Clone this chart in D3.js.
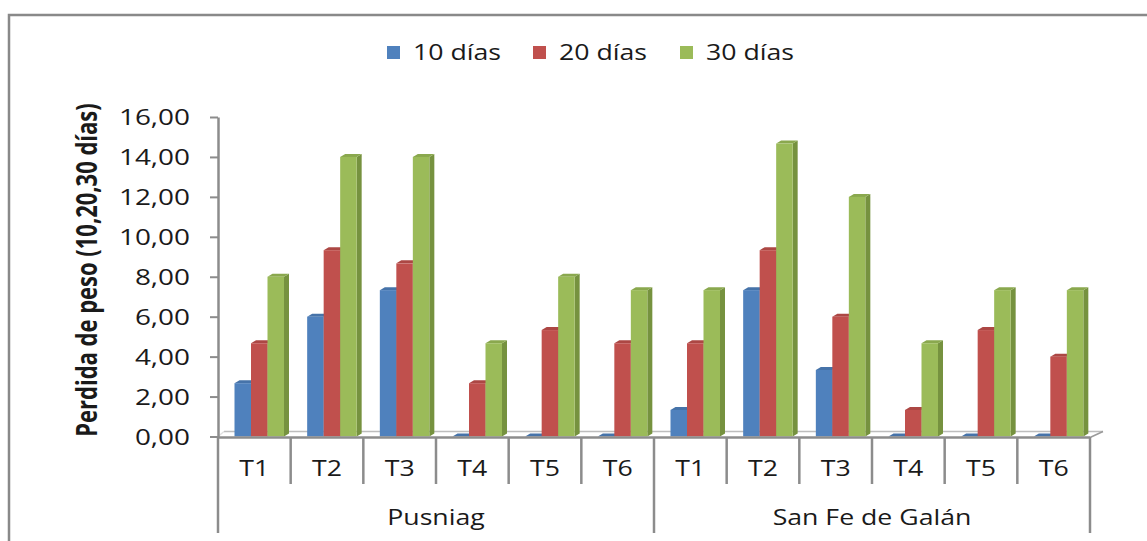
<!DOCTYPE html>
<meta charset="utf-8">
<style>
body { margin: 0; background: #fff; }
svg text { font-family: "Open Sans", Arial, sans-serif; fill: #1a1a1a; }
</style>
<body>
<script src="https://d3js.org/d3.v7.min.js"></script>
<script>

// data
var regions = ["Pusniag", "San Fe de Galán"];
var treatments = ["T1", "T2", "T3", "T4", "T5", "T6"];
var series = ["10 días", "20 días", "30 días"];
var colors = ["#4F81BD", "#C0504D", "#9BBB59"];
var sideColors = ["#3B6496", "#953C3A", "#76923F"];
var topColors = ["#4673A9", "#AC4744", "#8AA84E"];

var dias10 = [2.67, 6.00, 7.33, 0, 0, 0,   1.33, 7.33, 3.33, 0, 0, 0];
var dias20 = [4.67, 9.33, 8.67, 2.67, 5.33, 4.67,   4.67, 9.33, 6.00, 1.33, 5.33, 4.00];
var dias30 = [8.00, 14.00, 14.00, 4.67, 8.00, 7.33,   7.33, 14.67, 12.00, 4.67, 7.33, 7.33];
var yTicks = [0, 2, 4, 6, 8, 10, 12, 14, 16];

var W = 1147, H = 541;
var SX = 1.27; // the picture is stretched sideways, text too
var dx = 5, dy = 3; // 3d depth of the bars

var svg = d3.select("body").append("svg")
    .attr("width", W)
    .attr("height", H);

// outer frame (runs off the right and bottom)
svg.append("rect")
    .attr("x", 9).attr("y", 15)
    .attr("width", W + 20).attr("height", H + 20)
    .attr("fill", "none")
    .attr("stroke", "#898989")
    .attr("stroke-width", 2.5);

// one key per bar group
var keys = [];
regions.forEach(function(r, ri) {
  treatments.forEach(function(t) { keys.push(ri + "|" + t); });
});
var values = [dias10, dias20, dias30];

var x = d3.scaleBand().domain(keys).range([218, 1090]);
var x1 = d3.scaleBand().domain(series).range([16.5, 66]);
var y = d3.scaleLinear().domain([0, 16]).range([436.5, 117]);

var comma = d3.formatLocale({decimal: ",", thousands: ".", grouping: [3], currency: ["", ""]});
var fmt = comma.format(".2f");

// floor
var g0 = svg.append("g").attr("stroke", "#bdbdbd").attr("stroke-width", 1.5).attr("fill", "none");
g0.append("line").attr("x1", 218 + dx + 1).attr("x2", 1090 + dx * 2.6)
    .attr("y1", y(0) - dy - 2).attr("y2", y(0) - dy - 2);
g0.append("line").attr("x1", 1090).attr("x2", 1090 + dx * 2.6)
    .attr("y1", y(0) + 1).attr("y2", y(0) - dy - 2).attr("stroke", "#9a9a9a");
g0.append("line").attr("x1", 218).attr("x2", 218 + dx + 1)
    .attr("y1", y(0)).attr("y2", y(0) - dy - 2).attr("stroke", "#e0e0e0");

// bars
var bars = svg.append("g");
series.forEach(function(s, si) {
  var gs = bars.append("g");
  keys.forEach(function(k, i) {
    var v = values[si][i];
    var x0 = x(k) + x1(s), w = x1.bandwidth(), yt = y(v), yb = y(0);
    // side face
    gs.append("path")
      .attr("d", "M" + (x0 + w) + "," + yb + "L" + (x0 + w) + "," + yt +
                 "L" + (x0 + w + dx) + "," + (yt - dy) + "L" + (x0 + w + dx) + "," + (yb - dy) + "Z")
      .attr("fill", sideColors[si]);
    // top face
    gs.append("path")
      .attr("d", "M" + x0 + "," + yt + "L" + (x0 + dx) + "," + (yt - dy) +
                 "L" + (x0 + w + dx) + "," + (yt - dy) + "L" + (x0 + w) + "," + yt + "Z")
      .attr("fill", topColors[si]);
    // front face
    gs.append("rect")
      .attr("x", x0).attr("y", yt)
      .attr("width", w).attr("height", yb - yt)
      .attr("fill", colors[si]);
  });
});

// y axis
var yAxis = svg.append("g")
    .attr("transform", "translate(218,0)")
    .call(d3.axisLeft(y).tickValues(yTicks).tickFormat(fmt).tickSize(8).tickSizeOuter(0));
yAxis.select(".domain").attr("stroke", "#8c8c8c").attr("stroke-width", 2.5);
yAxis.selectAll(".tick line").attr("stroke", "#8c8c8c").attr("stroke-width", 2);
yAxis.selectAll(".tick text")
    .attr("x", -28 / SX)
    .attr("dy", "0.35em")
    .attr("transform", "scale(" + SX + ",1)")
    .style("font-size", "22px")
    .style("font-family", "'Open Sans', Arial, sans-serif")
    .attr("fill", "#1a1a1a");

// x axis line and dividers
var ax = svg.append("g").attr("stroke", "#8c8c8c").attr("stroke-width", 2.5);
ax.append("line").attr("x1", 218).attr("x2", 1090).attr("y1", 437.5).attr("y2", 437.5);
keys.forEach(function(k, i) {
  var xx = x(k);
  var longLine = (i % treatments.length === 0);
  ax.append("line").attr("x1", xx).attr("x2", xx)
    .attr("y1", 437).attr("y2", longLine ? 533 : 484);
});
ax.append("line").attr("x1", 1090).attr("x2", 1090).attr("y1", 437).attr("y2", 533);

// category labels
keys.forEach(function(k) {
  var cx = x(k) + x.bandwidth() / 2;
  svg.append("text")
    .attr("transform", "translate(" + cx + ",476) scale(" + SX + ",1)")
    .attr("text-anchor", "middle")
    .style("font-size", "21px")
    .text(k.split("|")[1]);
});
regions.forEach(function(r, ri) {
  var a = x(ri + "|T1"), b = x(ri + "|T6") + x.bandwidth();
  svg.append("text")
    .attr("transform", "translate(" + ((a + b) / 2) + ",525) scale(" + SX + ",1)")
    .attr("text-anchor", "middle")
    .style("font-size", "21px")
    .text(r);
});

// y title
svg.append("text")
    .attr("transform", "translate(97,270) scale(" + SX + ",1) rotate(-90)")
    .attr("text-anchor", "middle")
    .style("font-size", "22px")
    .style("font-weight", "bold")
    .text("Perdida de peso (10,20,30 días)");

// legend
var legX = [387, 533, 680];
series.forEach(function(s, i) {
  svg.append("rect")
    .attr("x", legX[i]).attr("y", 46)
    .attr("width", 13).attr("height", 13)
    .attr("fill", colors[i]);
  svg.append("text")
    .attr("transform", "translate(" + (legX[i] + 26) + ",60) scale(" + SX + ",1)")
    .style("font-size", "21px")
    .text(s);
});

</script>
</body>
